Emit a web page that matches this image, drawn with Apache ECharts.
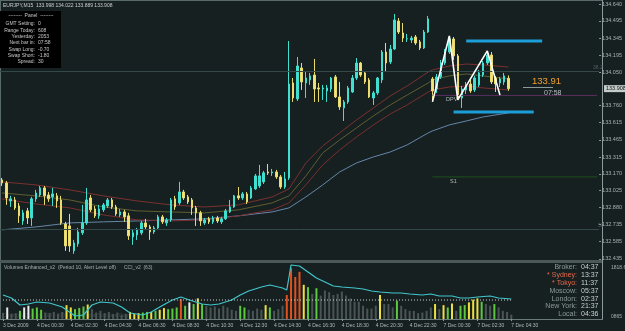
<!DOCTYPE html>
<html>
<head>
<meta charset="utf-8">
<script src="https://cdn.jsdelivr.net/npm/echarts@6/dist/echarts.min.js"></script>
<style>
html,body{margin:0;padding:0;background:#172020;}
#main{width:625px;height:331px;}
</style>
</head>
<body>
<div id="main"></div>
<script>
// EURJPY M15, bars from 3 Dec 22:30 to 7 Dec 04:30
var opens = [133.118,133.092,132.936,132.945,132.893,132.763,132.850,132.789,132.954,132.988,
  133.049,132.988,132.971,132.980,132.945,132.737,132.720,132.504,132.564,132.660,
  132.746,132.962,132.867,132.807,132.859,132.893,132.945,132.884,132.815,132.841,
  132.807,132.625,132.642,132.660,132.746,132.711,132.668,132.703,132.798,132.746,
  132.772,132.954,132.919,133.014,132.971,132.945,132.876,132.833,132.746,132.781,
  132.755,132.789,132.755,132.781,132.841,132.884,132.980,132.962,132.997,132.962,
  133.040,133.066,133.101,133.187,133.179,133.187,133.144,133.057,133.135,133.957,
  133.819,134.087,133.957,133.983,134.026,133.914,133.905,133.888,133.905,134.009,
  133.836,133.741,133.793,133.879,134.000,134.130,134.044,133.983,133.827,133.871,
  133.983,134.225,134.139,134.251,134.493,134.390,134.338,134.329,134.355,134.312,
  134.260,134.398,133.992,133.905,134.009,134.130,134.225,134.338,134.191,133.827,
  133.897,133.948,133.897,133.940,134.026,134.130,134.199,134.000,133.957,133.966,
  133.998];
var closes = [133.092,132.962,132.954,132.876,132.807,132.833,132.789,132.954,133.005,133.049,
  132.980,132.954,132.997,132.936,132.746,132.547,132.547,132.573,132.668,132.746,
  132.945,132.859,132.807,132.867,132.902,132.945,132.884,132.824,132.841,132.798,
  132.634,132.660,132.686,132.746,132.711,132.668,132.703,132.798,132.755,132.772,
  132.945,132.884,133.014,132.962,132.928,132.876,132.833,132.763,132.772,132.755,
  132.789,132.763,132.781,132.850,132.884,132.980,132.962,132.997,132.928,133.049,
  133.153,133.153,133.179,133.179,133.187,133.144,133.057,133.127,133.948,133.827,
  134.104,133.966,134.000,134.018,133.905,133.905,133.914,133.914,134.000,133.836,
  133.750,133.793,133.914,134.000,134.130,134.026,133.966,133.836,133.871,134.000,
  134.225,134.130,134.251,134.502,134.398,134.346,134.340,134.346,134.303,134.260,
  134.398,134.511,133.888,134.009,134.130,134.234,134.338,134.191,133.836,133.905,
  133.940,133.888,134.000,134.044,134.130,134.199,133.966,133.948,133.992,134.018,
  133.908];
var lows = [133.066,132.902,132.884,132.859,132.746,132.729,132.737,132.720,132.928,132.971,
  132.902,132.928,132.893,132.876,132.729,132.504,132.495,132.478,132.539,132.642,
  132.729,132.841,132.789,132.781,132.841,132.876,132.867,132.807,132.798,132.755,
  132.599,132.556,132.599,132.642,132.694,132.599,132.651,132.686,132.737,132.720,
  132.755,132.859,132.902,132.945,132.910,132.815,132.720,132.720,132.729,132.737,
  132.737,132.746,132.737,132.772,132.833,132.876,132.945,132.945,132.910,132.954,
  133.032,133.049,133.083,133.161,133.153,133.127,133.040,133.040,133.118,133.793,
  133.801,133.897,133.827,133.940,133.793,133.793,133.810,133.793,133.879,133.827,
  133.724,133.628,133.776,133.871,133.983,134.009,133.948,133.827,133.767,133.853,
  133.957,134.052,134.121,134.242,134.381,134.312,134.312,134.303,134.286,134.242,
  134.251,134.390,133.801,133.871,133.992,134.113,134.208,134.156,133.810,133.741,
  133.862,133.871,133.879,133.922,134.009,134.113,133.948,133.879,133.922,133.940,
  133.889];
var highs = [133.135,133.109,132.980,132.971,132.919,132.859,132.876,132.971,133.032,133.066,
  133.066,133.014,133.049,133.005,132.980,132.755,132.824,132.599,132.703,132.902,
  133.049,132.988,132.893,132.902,132.919,132.962,132.962,132.902,132.867,132.859,
  132.833,132.686,132.703,132.763,132.781,132.729,132.720,132.815,132.815,132.789,
  132.962,132.980,133.101,133.032,132.988,132.962,132.893,132.850,132.789,132.798,
  132.807,132.807,132.798,132.867,132.945,132.988,133.057,133.014,133.014,133.066,
  133.170,133.248,133.196,133.256,133.213,133.205,133.161,133.187,134.320,134.000,
  134.182,134.130,134.052,134.044,134.165,133.957,133.940,133.940,134.009,134.026,
  133.966,133.810,133.931,134.026,134.173,134.139,134.061,134.000,133.888,134.009,
  134.242,134.303,134.286,134.554,134.519,134.476,134.381,134.364,134.372,134.329,
  134.416,134.537,134.009,134.035,134.156,134.251,134.364,134.355,134.208,133.931,
  133.966,133.983,134.018,134.070,134.147,134.234,134.225,134.018,134.009,134.044,
  134.022];

// moving averages, read at these bar indices
var maIdx = [0,8,16,24,32,40,48,56,64,68,72,76,80,84,88,92,96,101,102,106,110,114,120];
var maUpper = [133.101,133.075,133.032,132.980,132.936,132.902,132.884,132.902,132.971,133.040,133.265,133.412,
  133.525,133.637,133.741,133.845,133.931,134.052,134.070,134.104,134.121,134.113,134.095];
var maMid = [133.005,132.980,132.945,132.884,132.850,132.841,132.833,132.859,132.919,132.980,133.153,133.352,
  133.464,133.568,133.672,133.767,133.853,133.957,133.983,134.018,134.035,134.018,133.992];
var maLower = [132.954,132.910,132.876,132.815,132.772,132.763,132.772,132.807,132.859,132.919,133.075,133.248,
  133.377,133.490,133.594,133.689,133.767,133.879,133.897,133.922,133.931,133.914,133.897];
var maSlow = [132.686,132.711,132.746,132.755,132.763,132.772,132.781,132.807,132.841,132.876,132.971,133.075,
  133.187,133.265,133.317,133.360,133.421,133.525,133.542,133.594,133.628,133.663,133.698];

// zigzag pattern and drawn levels
var zigIdx = [102,106,108,115,118];
var zigVal = [133.793,134.364,133.810,134.234,133.853];
var upperBox = {from:110, to:128, value:134.320};
var lowerBox = {from:107, to:126, value:133.706};
var pivotDPV = 133.849, pivotS1 = 133.144, levelFrom = 102;
var fibLevels = [134.061, 132.686];

// volumes + type (g grey, G green, Y yellow, W white, R red)
var volumes = [200,375,165,190,265,375,430,340,375,300,
  210,190,230,165,230,450,375,320,360,405,
  470,320,210,265,190,230,165,210,140,165,
  230,165,190,210,230,230,265,300,355,320,
  340,375,650,430,540,485,670,485,430,375,
  405,340,430,375,300,265,430,375,300,265,
  340,300,450,375,265,320,430,780,1660,1365,
  1530,1110,1035,815,1000,760,925,870,780,815,
  890,760,670,560,560,430,340,340,430,780,
  485,485,375,595,430,320,265,265,190,210,
  265,375,485,320,450,375,505,265,430,450,
  540,630,670,560,485,430,485,375,265,230,
  140];
var volTypes = ['g','W','g','g','G','W','W','G','G','G',
  'g','g','g','g','g','Y','Y','G','G','G',
  'Y','g','g','g','g','g','g','g','g','g',
  'Y','Y','Y','G','G','Y','G','Y','Y','G',
  'G','G','R','G','W','G','Y','G','g','g',
  'g','g','g','g','g','g','G','G','g','g',
  'g','g','Y','G','g','g','g','R','R','R',
  'R','Y','G','g','G','g','g','g','g','g',
  'g','g','g','g','g','g','g','g','g','Y',
  'g','g','g','G','g','g','g','g','g','g',
  'g','g','Y','g','Y','G','Y','g','G','G',
  'Y','Y','Y','G','g','g','G','g','g','g',
  'g'];
var cciIdx = [0,2,4,6,8,11,14,16,17,19,21,23,26,28,30,33,35,37,40,42,44,47,49,51,54,56,58,61,63,66,
  67,68,70,72,74,76,78,80,83,85,87,89,92,94,96,99,101,103,106,108,110,112,115,117,120];
var cciVal = [50,20,-50,-40,-20,-30,-70,-130,-160,-150,-50,-20,-30,-70,-130,-150,-120,-70,0,30,0,-40,-50,-40,0,50,90,130,150,120,
  100,350,340,280,220,180,140,130,120,110,90,80,70,70,60,50,60,40,40,20,20,30,40,20,10];

var timeLabels = ['3 Dec 2009','4 Dec 00:30','4 Dec 02:30','4 Dec 04:30','4 Dec 06:30','4 Dec 08:30',
  '4 Dec 10:30','4 Dec 12:30','4 Dec 14:30','4 Dec 16:30','4 Dec 18:30','4 Dec 20:30','4 Dec 22:30',
  '7 Dec 00:30','7 Dec 02:30','7 Dec 04:30'];
var priceTicks = [134.640,134.495,134.345,134.195,134.050,133.760,133.615,133.465,133.315,133.170,
  133.025,132.880,132.735,132.585,132.435];

var panelRows = [['GMT Setting:','0'],['Range Today:','608'],['Yesterday:','2053'],['Next bar in:','07:58'],
  ['Swap Long:','-0.70'],['Swap Short:','-1.80'],['Spread:','30']];
var clockRows = [['Broker:','04:37',0],['* Sydney:','13:37',1],['* Tokyo:','11:37',1],['Moscow:','05:37',0],
  ['London:','02:37',0],['New York:','21:37',0],['Local:','04:36',0]];

var SLOTS = 142;
var cats = [];
for (var i = 0; i < SLOTS; i++) cats.push(String(i));
var candleData = opens.map(function(o, i){ return [o, closes[i], lows[i], highs[i]]; });
function pairs(idx, vals){ return idx.map(function(k, i){ return [k, vals[i]]; }); }
var volColors = {g:'#4b5454', G:'#5cc83e', Y:'#ecdf40', W:'#ececec', R:'#e2501e'};
var volData = volumes.map(function(v, i){ return {value: v, itemStyle: {color: volColors[volTypes[i]]}}; });

var FONT = '"Liberation Sans", Arial, sans-serif';
function txt(s, x, y, size, color, align){
  return {type:'text', silent:true, style:{text:s, x:x, y:y, fill:color, font: size + 'px ' + FONT,
    textAlign: align || 'left', textVerticalAlign:'middle'}};
}

var chart = echarts.init(document.getElementById('main'));
var gridL = -1.125, gridW = 603.5;

var maLine = function(name, data, color){
  return {name:name, type:'line', xAxisIndex:0, yAxisIndex:0, data:pairs(maIdx, data), showSymbol:false,
    silent:true, lineStyle:{color:color, width:1}, z:2};
};
var seg = function(from, to, v, color, w){
  return {type:'line', xAxisIndex:0, yAxisIndex:0, data:[[from, v],[to, v]], showSymbol:false, silent:true,
    lineStyle:{color:color, width:w}, z:4};
};

var graphics = [
  {type:'rect', silent:true, shape:{x:0, y:0, width:603, height:1}, style:{fill:'#5a6a6a'}},
  {type:'rect', silent:true, shape:{x:0, y:0, width:1, height:320}, style:{fill:'#5a6a6a'}},
  {type:'rect', silent:true, shape:{x:0, y:260, width:603, height:3}, style:{fill:'#4a5858'}},
  {type:'rect', silent:true, shape:{x:602, y:0, width:1, height:320}, style:{fill:'#8a9a9a'}},
  txt('EURJPY,M15  133.998 134.022 133.889 133.908', 3, 6, 5, '#c8d0d0'),
  {type:'rect', silent:true, shape:{x:0, y:11, width:61, height:57}, style:{fill:'#000000'}},
  txt('--------  Panel  --------', 31, 16, 5, '#c8c8c8', 'center'),
  txt('Volumes Enhanced_v2  (Period 10, Alert Level off)', 4, 268, 5, '#a8b0b0'),
  txt('CCI_v2  (63)', 124, 268, 5, '#a8b0b0'),
  txt('Coding MQL4, (c) 2007-2009 FXTechnical Software Corp', 3, 316, 5, '#3a4646'),
  txt('1818.6', 611, 268, 5, '#a8b0b0'),
  txt('0865', 611, 317, 5, '#a8b0b0'),
  txt('133.91', 532, 81, 9.5, '#f0a030'),
  {type:'line', silent:true, shape:{x1:523, y1:87.5, x2:553, y2:87.5}, style:{stroke:'#8a9a9a', lineWidth:1}},
  txt('07:58', 544, 93, 7, '#b8c0c0'),
  txt('DPV', 446, 99, 5.5, '#b0b8b8'),
  txt('S1', 450, 181, 5.5, '#b0b8b8'),
  txt('38.2', 593, 68, 5, '#4e6060'),
  txt('50', 598, 226, 5, '#4e6060')
];
panelRows.forEach(function(r, i){
  var y = 24 + i * 6.3;
  graphics.push(txt(r[0], 35, y, 5, '#c8c8c8', 'right'));
  graphics.push(txt(r[1], 38, y, 5, '#c8c8c8'));
});
clockRows.forEach(function(r, i){
  var y = 267 + i * 7.9;
  graphics.push(txt(r[0], 577, y, 7, r[2] ? '#e8684a' : '#8c9a9a', 'right'));
  graphics.push(txt(r[1], 581, y, 7, '#c8d0d0'));
});

var option = {
  backgroundColor: '#172020',
  animation: false,
  grid: [
    {left: gridL, top: 0, width: gridW, height: 260},
    {left: gridL, top: 263, width: gridW, height: 56}
  ],
  xAxis: [
    {type:'category', gridIndex:0, data:cats, boundaryGap:true, axisLine:{show:false}, axisTick:{show:false},
      axisLabel:{show:false}, splitLine:{show:false}},
    {type:'category', gridIndex:1, data:cats, boundaryGap:true,
      axisLine:{show:true, lineStyle:{color:'#6a7a7a'}},
      axisTick:{show:true, length:2, alignWithLabel:true, lineStyle:{color:'#8a9a9a'},
        interval:function(idx){ return idx % 8 === 0 && idx / 8 < timeLabels.length; }},
      axisLabel:{show:true, color:'#b0b8b8', fontSize:5, fontFamily:FONT, align:'left', margin:4,
        interval:function(idx){ return idx % 8 === 0 && idx / 8 < timeLabels.length; },
        formatter:function(v, idx){ return timeLabels[idx / 8] || ''; }},
      splitLine:{show:false}}
  ],
  yAxis: [
    {type:'value', gridIndex:0, position:'right', min:132.425, max:134.675, scale:true,
      axisLine:{show:false}, splitLine:{show:false},
      axisTick:{show:true, length:2, inside:false, lineStyle:{color:'#8a9a9a'}, customValues:priceTicks},
      axisLabel:{show:true, color:'#a8b0b0', fontSize:5.5, fontFamily:FONT, margin:3, customValues:priceTicks,
        formatter:function(v){ return v.toFixed(3); }}},
    {type:'value', gridIndex:1, position:'right', min:0, max:1818.6, show:false, splitLine:{show:false}},
    {type:'value', gridIndex:1, position:'right', min:-190, max:370, show:false, splitLine:{show:false}}
  ],
  series: [
    {type:'line', xAxisIndex:0, yAxisIndex:0, data:[], silent:true, z:1,
      markLine:{silent:true, symbol:'none', label:{show:false},
        lineStyle:{color:'#344a4a', width:1, type:'solid'},
        data: fibLevels.map(function(v){ return {yAxis:v}; })}},
    seg(levelFrom, SLOTS - 1, pivotDPV, '#5a2e5e', 1),
    seg(levelFrom, SLOTS - 1, pivotS1, '#1e501e', 1),
    maLine('slow', maSlow, '#6486aa'),
    maLine('lower', maLower, '#7a2e2e'),
    maLine('mid', maMid, '#5e5e30'),
    maLine('upper', maUpper, '#7a3030'),
    {type:'candlestick', xAxisIndex:0, yAxisIndex:0, data:candleData, barWidth:2, silent:true, z:3,
      itemStyle:{color:'#40e0d0', color0:'#f2e47a', borderColor:'#40e0d0', borderColor0:'#e8dc70', borderWidth:1}},
    {type:'line', xAxisIndex:0, yAxisIndex:0, data:pairs(zigIdx, zigVal), showSymbol:false, silent:true, z:5,
      lineStyle:{color:'#ffffff', width:1.6}},
    seg(upperBox.from, upperBox.to, upperBox.value, '#1c9ed8', 3),
    seg(lowerBox.from, lowerBox.to, lowerBox.value, '#1c9ed8', 3),
    {type:'bar', xAxisIndex:1, yAxisIndex:1, data:volData, barWidth:2, silent:true, z:2},
    {type:'line', xAxisIndex:1, yAxisIndex:2, data:pairs(cciIdx, cciVal), showSymbol:false, silent:true, z:3,
      lineStyle:{color:'#40c6cc', width:1.2}},
    {type:'line', xAxisIndex:1, yAxisIndex:2, data:[[0,0],[opens.length - 1,0]], showSymbol:false, silent:true, z:4,
      lineStyle:{color:'#d0d0d0', width:1, type:[1,2]}}
  ],
  graphic: graphics
};
chart.setOption(option);

// current price box on the price scale
var lastClose = closes[closes.length - 1];
var py = chart.convertToPixel({yAxisIndex:0}, lastClose);
graphics.push({type:'rect', silent:true, shape:{x:604, y:py - 3.5, width:21, height:7}, style:{fill:'#c4cccc'}});
graphics.push(txt(lastClose.toFixed(3), 606, py, 5.5, '#101818'));
chart.setOption({graphic: graphics});
</script>
</body>
</html>
